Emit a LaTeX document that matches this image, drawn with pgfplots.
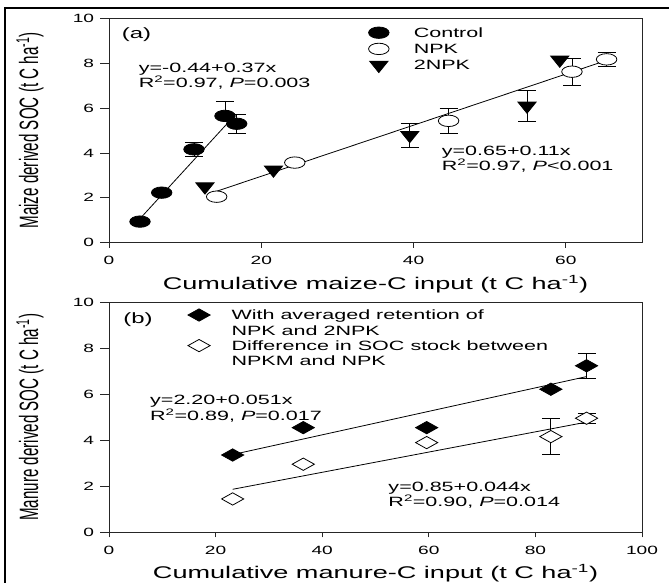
\documentclass[border=0pt]{standalone}
\usepackage{fontspec}
\setmainfont{Liberation Sans}[FakeStretch=1.6]
\newfontfamily\ylabfont{Liberation Sans}
\usepackage{graphicx}
\usepackage{pgfplots}
\usepackage{pgfplotstable}
\pgfplotsset{compat=1.18}

\newcommand\tickf{\fontsize{12}{14}\selectfont}
\newcommand\annf{\fontsize{13.5}{15}\selectfont}
\newcommand\panf{\fontsize{15}{17}\selectfont}
\newcommand\labf{\fontsize{17}{20}\selectfont}
\newcommand\ylab[1]{\scalebox{1}[1.75]{\ylabfont\fontsize{15.2}{18}\selectfont #1}}

% (a) maize-derived SOC
\pgfplotstableread{
x y
4.07 0.94
6.92 2.23
11.16 4.16
15.23 5.65
16.77 5.30
}\ctrl
\pgfplotstableread{
x y
14.14 2.05
24.4 3.57
44.6 5.43
60.8 7.62
65.35 8.17
}\npk
\pgfplotstableread{
x y
12.6 2.50
21.6 3.25
39.5 4.79
54.9 6.10
59.2 8.15
}\dnpk
\pgfplotstableread{
x y ep em
11.16 4.16 0.30 0.30
15.23 5.65 0.64 0
16.77 5.30 0.43 0.43
39.5 4.79 0.54 0.54
44.6 5.43 0.56 0.56
54.9 6.10 0.70 0.70
60.8 7.62 0.60 0.60
65.35 8.17 0.30 0.30
}\errA
% (b) manure-derived SOC
\pgfplotstableread{
x y
23.2 3.36
36.45 4.55
59.6 4.55
82.9 6.22
89.6 7.24
}\avg
\pgfplotstableread{
x y
23.2 1.45
36.45 2.96
59.6 3.90
82.9 4.16
89.6 4.96
}\diff
\pgfplotstableread{
x y ep em
89.6 7.24 0.53 0.53
82.9 4.16 0.78 0.78
89.6 4.96 0.22 0.22
}\errB

\pgfplotsset{
  panel/.style={
    scale only axis, width=533bp, anchor=south west,
    axis line style={line width=0.8bp, black!85},
    tick align=outside, xtick pos=bottom, ytick pos=left,
    xtick style={line width=0.8bp, black!85, /pgfplots/major tick length=5bp},
    ytick style={line width=0.8bp, black!85, /pgfplots/major tick length=9bp},
    tick label style={font=\tickf, inner sep=0pt},
    /pgf/number format/assume math mode=true,
    ymin=0, ymax=10, ytick={0,2,4,6,8,10}, xmin=0,
    yticklabel style={anchor=east, xshift=-10.5bp},
    xticklabel style={anchor=north, yshift=-9.3bp},
    xlabel style={font=\labf, anchor=base, inner sep=0pt},
    ylabel style={anchor=center, inner sep=0pt},
    legend style={draw=none, fill=none, inner sep=0pt, outer sep=0pt,
      row sep=0pt, font=\annf,
      nodes={inner sep=0pt, text height=9.7bp, text depth=0bp}},
    legend cell align=left,
  },
  fitline/.style={black, line width=0.8bp, no marks, forget plot},
  errplot/.style={forget plot, only marks, mark=none,
    error bars/.cd, y dir=both, y explicit, error mark=-,
    error bar style={draw=black, line width=0.8bp},
    error mark options={rotate=90, draw=black, mark size=9bp, line width=0.8bp}},
  legA/.style={legend image code/.code={%
    \draw[##1] plot coordinates {(0bp,0bp)};
    \path[draw=none, fill=none] (0bp,-8.1bp) -- (0bp,8.1bp);}},
  legB/.style={legend image code/.code={%
    \draw[##1] plot coordinates {(0bp,0bp)};
    \path[draw=none, fill=none] (0bp,-7.65bp) -- (0bp,7.65bp);}},
  blankB/.style={legend image code/.code={%
    \path[draw=none, fill=none] (0bp,-7.65bp) -- (0bp,7.65bp);}},
}

\begin{document}
\begin{tikzpicture}
\useasboundingbox (0bp,0bp) rectangle (669bp,583bp);
\draw[line width=1.5bp, black] (5bp,0bp) -- (5bp,575bp) -- (669bp,575bp);

% ---------- panel (a)
\begin{axis}[panel, at={(109bp,340.3bp)}, height=224.4bp,
  xmax=70, xtick={0,20,40,60},
  xlabel={Cumulative maize-C input (t C ha\textsuperscript{-1})},
  ylabel={\ylab{Maize derived SOC (t C ha\textsuperscript{-1})}},
  xlabel style={at={(axis description cs:0.5,-0.2094)}},
  ylabel style={at={(axis description cs:-0.1482,0.5)}},
  legend style={at={(axis description cs:0.4870,0.9719)}, anchor=north west,
    column sep=24.7bp},
]
\addplot[fitline] coordinates {(4.07,1.07) (15.5,5.30)};
\addplot[fitline] coordinates {(13.5,2.22) (65.5,8.14)};
\addplot[errplot] table[x=x, y=y, y error plus=ep, y error minus=em] {\errA};
\addplot[only marks, mark=*, mark size=5.7bp, legA,
  mark options={xscale=1.8, draw=black, fill=black, line width=0.8bp}] table[x=x,y=y] {\ctrl};
\addlegendentry{Control}
\addplot[only marks, mark=*, mark size=5.7bp, legA,
  mark options={xscale=1.8, draw=black, fill=white, line width=0.8bp}] table[x=x,y=y] {\npk};
\addlegendentry{NPK}
\addplot[only marks, mark=triangle*, mark size=7.5bp, legA,
  mark options={rotate=180, xscale=1.4, draw=black, fill=black, line width=0.8bp}] table[x=x,y=y] {\dnpk};
\addlegendentry{2NPK}

\node[anchor=base west, font=\panf, inner sep=0pt] at (axis cs:1.67,9.08) {(a)};
\node[anchor=base west, font=\annf, inner sep=0pt] at (axis cs:3.89,7.57) {y=-0.44+0.37x};
\node[anchor=base west, font=\annf, inner sep=0pt] at (axis cs:3.89,6.92) {R\textsuperscript{2}=0.97, \textit{P}=0.003};
\node[anchor=base west, font=\annf, inner sep=0pt] at (axis cs:43.69,3.90) {y=0.65+0.11x};
\node[anchor=base west, font=\annf, inner sep=0pt] at (axis cs:43.69,3.23) {R\textsuperscript{2}=0.97, \textit{P}<0.001};
\end{axis}

% ---------- panel (b)
\begin{axis}[panel, at={(109bp,50.7bp)}, height=230bp,
  xmax=100, xtick={0,20,40,60,80,100},
  xlabel={Cumulative manure-C input (t C ha\textsuperscript{-1})},
  ylabel={\ylab{Manure derived SOC (t C ha\textsuperscript{-1})}},
  xlabel style={at={(axis description cs:0.5,-0.2030)}},
  ylabel style={at={(axis description cs:-0.1482,0.5)}},
  legend style={at={(axis description cs:0.1482,0.978)}, anchor=north west,
    column sep=21.4bp},
]
\addplot[fitline] coordinates {(23.2,3.38) (89.6,6.77)};
\addplot[fitline] coordinates {(23.2,1.87) (89.6,4.79)};
\addplot[errplot] table[x=x, y=y, y error plus=ep, y error minus=em] {\errB};
\addplot[only marks, mark=diamond*, mark size=6.15bp, legB,
  mark options={xscale=2.4, draw=black, fill=black, line width=0.8bp}] table[x=x,y=y] {\avg};
\addlegendentry{With averaged retention of}
\addlegendimage{blankB}
\addlegendentry{NPK and 2NPK}
\addplot[only marks, mark=diamond*, mark size=6.15bp, legB,
  mark options={xscale=2.4, draw=black, fill=white, line width=0.8bp}] table[x=x,y=y] {\diff};
\addlegendentry{Difference in SOC stock between}
\addlegendimage{blankB}
\addlegendentry{NPKM and NPK}

\node[anchor=base west, font=\panf, inner sep=0pt] at (axis cs:2.68,9.06) {(b)};
\node[anchor=base west, font=\annf, inner sep=0pt] at (axis cs:7.69,5.56) {y=2.20+0.051x};
\node[anchor=base west, font=\annf, inner sep=0pt] at (axis cs:7.69,4.87) {R\textsuperscript{2}=0.89, \textit{P}=0.017};
\node[anchor=base west, font=\annf, inner sep=0pt] at (axis cs:52.4,1.76) {y=0.85+0.044x};
\node[anchor=base west, font=\annf, inner sep=0pt] at (axis cs:52.4,1.12) {R\textsuperscript{2}=0.90, \textit{P}=0.014};
\end{axis}
\end{tikzpicture}
\end{document}
